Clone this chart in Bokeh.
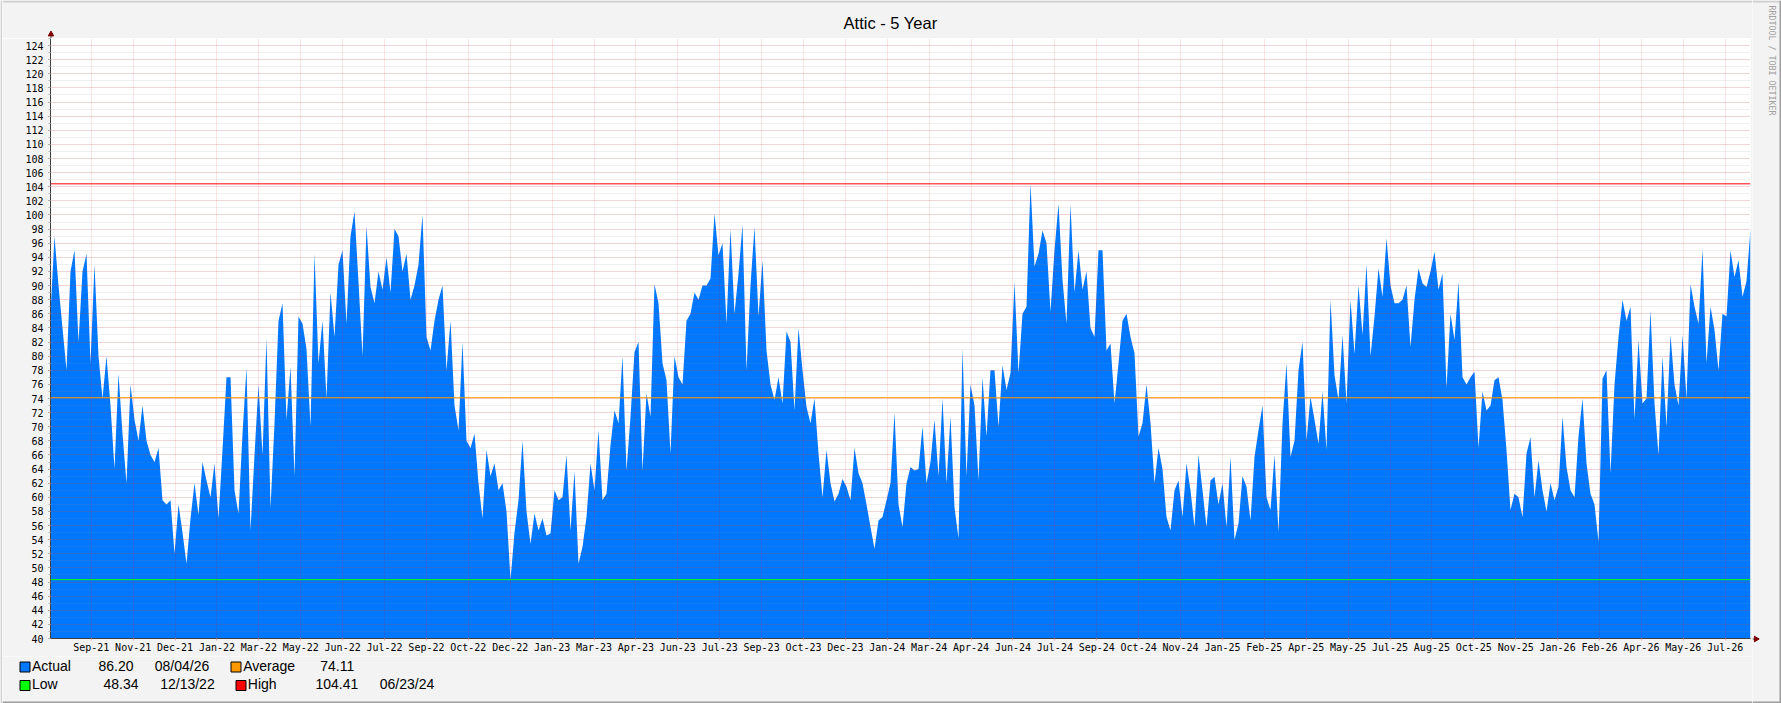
import numpy as np
from bokeh.plotting import figure
from bokeh.layouts import row, column
from bokeh.models import Span, FixedTicker, SingleIntervalTicker
from bokeh.core.properties import value
from bokeh.embed import file_html
from bokeh.resources import INLINE

# ---------------- data ----------------
TITLE = "Attic - 5 Year"
WATERMARK = "RRDTOOL / TOBI OETIKER"
SPAN_DAYS = 1826          # 5 years, 08/04/21 .. 08/04/26

# attic temperature (about one value every 4.3 days)
temps_2021_22 = [
    86, 97, 90, 84, 78, 92, 95, 82, 92, 94.5,
    79, 93, 80, 74, 80, 73, 64, 77.5, 69, 62,
    76, 71, 68, 73, 68, 66, 65, 67, 59.6, 59,
    59.6, 52, 59, 55, 50.6, 57, 62, 57.5, 65, 62.4,
    60, 64.8, 57, 66.7, 77, 77, 61, 57.7, 69, 78.4,
    55.3, 66, 76, 66, 82.5, 58.4, 70.5, 85, 87.5, 71,
    78.5, 63, 85.6, 84.6, 81, 70, 94.5, 79, 85, 74,
    89, 82.7, 93, 95, 84.6, 97, 100.5, 90.5, 80, 98.4,
    89.8, 87.5, 92, 89.4, 94, 89, 98, 97, 92, 94.5,
    88, 90, 93, 100, 82.7, 80.8, 85, 88, 90, 78,
    85, 73, 69.5, 82, 68, 67, 69, 62, 57,
]
temps_2022_23 = [
    66.7, 63, 64.8, 61, 62, 58, 48.34, 55, 59.6, 68,
    58, 53.4, 57.7, 55.3, 57, 54.6, 54.9, 61, 59.6, 60,
    66, 55.3, 63.7, 50.6, 53, 57.2, 64.8, 61, 69.5, 59.6,
    60.5, 67.4, 72.3, 70.5, 80, 63.8, 71.4, 80.6, 82, 63.8,
    74.7, 71.4, 90.2, 87.5, 79, 76.6, 66.2, 80, 77, 76,
    85, 86, 89, 88, 90, 90, 91, 100.2, 94.3, 96,
    84.6, 98, 86, 91.7, 98.6, 78, 90, 98.3, 85.6, 93.6,
    80.8, 76, 73.8, 77, 73.3, 83.5, 82, 72.3, 84, 78,
    72.8, 70.5, 74, 66.2, 60, 66.7, 62, 59.4, 60.5, 62.6,
    61.5, 59.6, 67, 63.4, 62, 59, 55.8, 52.7, 56.7, 57.2,
    59.6, 62, 72, 59, 55.8, 62, 64.3, 63.8,
]
temps_2024_25 = [
    64, 70, 62, 65, 71, 63, 74, 62, 71.4, 58.6,
    54.2, 81, 63, 76, 73, 62.4, 77, 68.6, 78, 78,
    70, 78.7, 75.2, 77.6, 90.5, 77.6, 86, 87, 104.41, 92.7,
    94.5, 97.8, 96, 86.3, 95, 101.6, 90.8, 84.6, 101.5, 89,
    95, 89.4, 92, 84, 82.7, 95, 95, 80.8, 81.8, 73.3,
    79, 85, 86, 82.7, 80.4, 68.6, 70.5, 76, 70.5, 62,
    67, 64, 57.2, 55.3, 61, 62.4, 57.2, 64.8, 61, 55.8,
    66, 61, 55.8, 62.4, 62.9, 59, 62, 55.8, 65.7, 54,
    56.3, 63, 61.5, 56.7, 65.7, 69.5, 73, 60, 58.2, 66,
    55, 70.5, 79, 65.7, 68, 78, 82, 68, 74.2, 71,
    67.6, 75, 66.7, 88, 77.3, 73.8, 83,
]
temps_2025_26 = [
    73.3, 88, 80.3, 90, 83, 93, 80, 85.6, 92.4, 88.4,
    96.7, 90, 87.5, 87.5, 88, 90, 81.3, 88, 92.4, 90.3,
    89.8, 92, 94.8, 89.4, 91.7, 75.5, 86, 82.3, 90.5, 77,
    76, 77, 77.8, 67, 75, 72.3, 73, 76.6, 77, 73.8,
    66.7, 58.2, 60.5, 60, 57.2, 66.2, 68.5, 60, 65.2, 61,
    58, 62, 59.6, 61.5, 71.4, 64.3, 61, 60, 68.6, 74,
    64.8, 60.5, 59, 53.7, 76.8, 78, 63.4, 76, 82.7, 88,
    85, 87, 71, 82.3, 73.3, 74, 86.5, 73.3, 66, 80,
    70, 83, 76, 73, 83, 74, 90.2, 87, 84.6, 95.1,
    79, 87, 83.7, 78, 86, 85.6, 95, 91.2, 93.6, 88.4,
    90.6, 98,
]
temps = temps_2021_22 + temps_2022_23 + temps_2024_25 + temps_2025_26

tick_labels = [
    "Sep-21", "Nov-21", "Dec-21", "Jan-22", "Mar-22", "May-22", "Jun-22", "Jul-22",
    "Sep-22", "Oct-22", "Dec-22", "Jan-23", "Mar-23", "Apr-23", "Jun-23", "Jul-23",
    "Sep-23", "Oct-23", "Dec-23", "Jan-24", "Mar-24", "Apr-24", "Jun-24", "Jul-24",
    "Sep-24", "Oct-24", "Nov-24", "Jan-25", "Feb-25", "Apr-25", "May-25", "Jul-25",
    "Aug-25", "Oct-25", "Nov-25", "Jan-26", "Feb-26", "Apr-26", "May-26", "Jul-26",
]
FIRST_TICK_DAY = 43.8
TICK_STEP_DAYS = 45.0

actual, actual_date = 86.20, "08/04/26"
average = 74.11
low, low_date = 48.34, "12/13/22"
high, high_date = 104.41, "06/23/24"

# ---------------- style / layout (page pixels) ----------------
BLUE, ORANGE, GREEN, RED = "#0077FF", "#FF9900", "#00FF00", "#FF0000"
AXIS, ARROW, BG = "#404040", "#7F0000", "#F3F3F3"
SHADE_A, SHADE_B = "#CFCFCF", "#9E9E9E"

W, H = 1781, 703
LEFT_X, COL_X1 = 2, 1752          # main column spans x 2..1752
TITLE_Y1, MAIN_Y1 = 38, 656       # title 0..38, chart 38..656, legend 656..703
FRAME_L, FRAME_R, FRAME_B = 50, 1750, 638

NOALIGN = {"frame_align": False} if "frame_align" in figure.properties() else {}


def panel(x0, x1, y0, y1):
    """A blank panel whose data coordinates are page pixels (y downwards)."""
    f = figure(width=x1 - x0, height=y1 - y0, x_range=(x0, x1), y_range=(y1, y0),
               output_backend="svg", toolbar_location=None,
               x_axis_location=None, y_axis_location=None,
               min_border_left=0, min_border_right=0,
               min_border_top=0, min_border_bottom=0,
               background_fill_color=BG, border_fill_color=BG,
               outline_line_color=None, **NOALIGN)
    f.grid.visible = False
    return f


TXT_SHIFT = 0.36   # em: renderer places the alphabetic baseline this much low

# ---- left edge ----
edge = panel(0, LEFT_X, 0, H)
edge.quad(left=[0], right=[LEFT_X], top=[0], bottom=[H], fill_color=SHADE_A, line_color=None)

# ---- title panel ----
tp = panel(LEFT_X, COL_X1, 0, TITLE_Y1)
tp.quad(left=[LEFT_X], right=[COL_X1], top=[0], bottom=[2], fill_color=SHADE_A, line_color=None)
tp.text(x=[890], y=[28.3 - TXT_SHIFT * 16.5], text=[TITLE], text_align="center",
        text_baseline="alphabetic", text_font=value("Liberation Sans"),
        text_font_size=value("16.5px"), text_color="#000000")
tp.segment(x0=[FRAME_L + 0.5], y0=[34], x1=[FRAME_L + 0.5], y1=[TITLE_Y1], line_color=AXIS)
tp.scatter(x=[FRAME_L + 0.5], y=[33.8], marker="triangle", size=5.5,
           fill_color=ARROW, line_color=ARROW)

# ---- main chart ----
days = np.arange(len(temps)) * SPAN_DAYS / (len(temps) - 1)
tick_days = [round(FIRST_TICK_DAY + TICK_STEP_DAYS * i, 2) for i in range(len(tick_labels))]

p = figure(width=COL_X1 - LEFT_X, height=MAIN_Y1 - TITLE_Y1,
           x_range=(0, SPAN_DAYS), y_range=(40, 125),
           output_backend="svg", toolbar_location=None,
           min_border_left=FRAME_L - LEFT_X, min_border_right=COL_X1 - FRAME_R,
           min_border_top=0, min_border_bottom=MAIN_Y1 - FRAME_B,
           background_fill_color="white", border_fill_color=BG,
           outline_line_color=None, **NOALIGN)

p.varea(x=days, y1=0, y2=temps, fill_color=BLUE)

p.xaxis.ticker = FixedTicker(ticks=tick_days)
p.xgrid.ticker = FixedTicker(ticks=tick_days)
p.xaxis.major_label_overrides = {t: lab for t, lab in zip(tick_days, tick_labels)}
yt = SingleIntervalTicker(interval=2, num_minor_ticks=2)
p.yaxis.ticker = yt
p.ygrid.ticker = yt

for g in (p.xgrid, p.ygrid):
    g.level = "guide"
    g.grid_line_color = "#F00000"
    g.grid_line_alpha = 0.22
    g.grid_line_dash = "1 1"
p.ygrid.minor_grid_line_color = "#8F8F8F"
p.ygrid.minor_grid_line_alpha = 0.28
p.ygrid.minor_grid_line_dash = "1 1"

for ax in (p.xaxis, p.yaxis):
    ax.axis_line_color = AXIS
    ax.major_label_text_font = "DejaVu Sans Mono"
    ax.major_label_text_font_size = "10px"
    ax.major_label_text_color = "#000000"
    ax.major_tick_in = 0
    ax.minor_tick_in = 0

p.yaxis.major_tick_out = 2
p.yaxis.major_tick_line_color = AXIS
p.yaxis.minor_tick_out = 2
p.yaxis.minor_tick_line_color = "#B8B8B8"
p.yaxis.major_label_standoff = 5
p.xaxis.major_tick_out = 2
p.xaxis.major_tick_line_color = "#E8A8A8"
p.xaxis.minor_tick_out = 0
p.xaxis.major_label_standoff = 1

# hrules: average, low, high
p.add_layout(Span(location=average, dimension="width", line_color=ORANGE, line_width=1))
p.add_layout(Span(location=low, dimension="width", line_color=GREEN, line_width=1))
p.add_layout(Span(location=high, dimension="width", line_color=RED, line_width=1))

# ---- legend panel ----
lp = panel(LEFT_X, COL_X1, MAIN_Y1, H)
lp.quad(left=[LEFT_X], right=[COL_X1], top=[H - 2], bottom=[H], fill_color=SHADE_B, line_color=None)
R1, R2 = 671 - TXT_SHIFT * 14, 689 - TXT_SHIFT * 14     # text baselines
legend_x = [31.5, 98, 154.3, 242.7, 319.7, 31.5, 103, 159.7, 247.3, 315, 379.3]
legend_y = [R1, R1, R1, R1, R1, R2, R2, R2, R2, R2, R2]
legend_t = ["Actual", f"{actual:.2f}", actual_date, "Average", f"{average:.2f}",
            "Low", f"{low:.2f}", low_date, "High", f"{high:.2f}", high_date]
lp.text(x=legend_x, y=legend_y, text=legend_t, text_align="left",
        text_baseline="alphabetic", text_font=value("Liberation Sans"),
        text_font_size=value("14px"), text_color="#000000")
sw_left = [19.5, 230.5, 19.5, 235.5]
sw_top = [661.5, 661.5, 680, 680]
lp.quad(left=sw_left, right=[v + 10 for v in sw_left],
        top=sw_top, bottom=[v + 10 for v in sw_top],
        fill_color=[BLUE, ORANGE, GREEN, RED], line_color="#000000", line_width=1)

# ---- right strip: x-axis arrow + watermark ----
sp = panel(COL_X1, W, 0, H)
sp.quad(left=[COL_X1], right=[W - 2], top=[0], bottom=[2], fill_color=SHADE_A, line_color=None)
sp.quad(left=[W - 2, COL_X1], right=[W, W], top=[0, H - 2], bottom=[H, H],
        fill_color=SHADE_B, line_color=None)
sp.segment(x0=[COL_X1], y0=[FRAME_B + 0.5], x1=[1754], y1=[FRAME_B + 0.5], line_color=AXIS)
sp.scatter(x=[1755.5], y=[FRAME_B + 0.5], marker="triangle", angle=-np.pi / 2, size=5.5,
           fill_color=ARROW, line_color=ARROW)
sp.text(x=[1771.5], y=[5], text=[WATERMARK], angle=-np.pi / 2, text_align="left",
        text_baseline="middle", text_font=value("DejaVu Sans Mono"),
        text_font_size=value("8.3px"), text_color="#A0A0A0")

layout = row(edge, column(tp, p, lp), sp)

open("out.html", "w").write(file_html(layout, INLINE))
